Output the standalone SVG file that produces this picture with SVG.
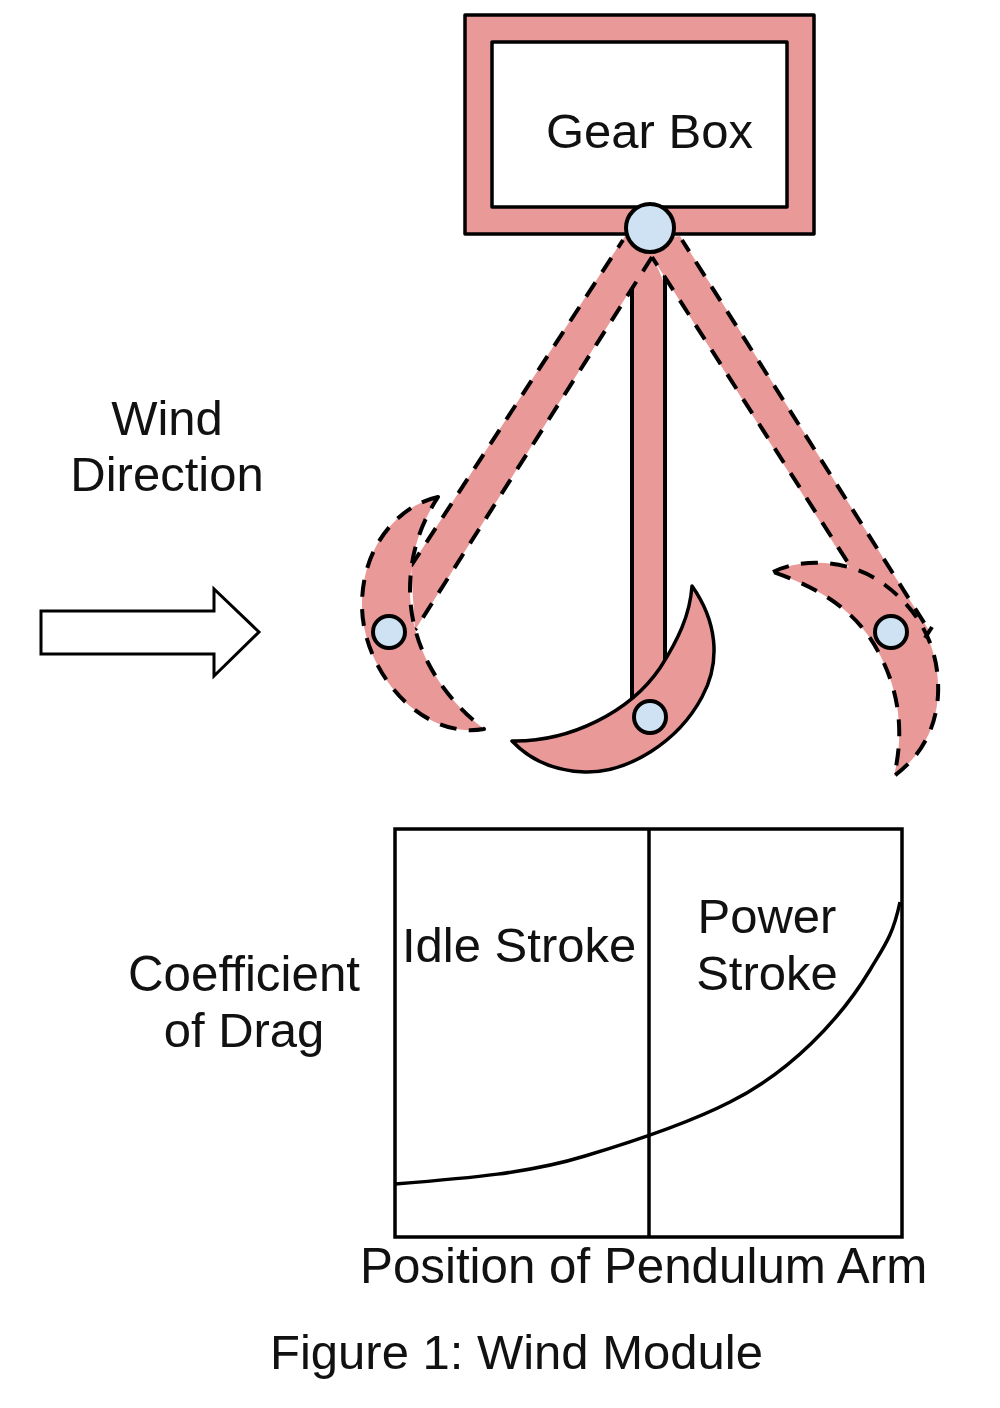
<svg xmlns="http://www.w3.org/2000/svg" width="1000" height="1408" viewBox="0 0 1000 1408">
<style>
.p{fill:#ea9999;stroke:#000;stroke-width:3.5;stroke-linejoin:round}
.f{fill:#ea9999}
.d{stroke-width:4;stroke-dasharray:17 12.3}
.e{fill:none;stroke:#000;stroke-width:4}
.c{fill:#cfe2f3;stroke:#000;stroke-width:4}
text{font-family:"Liberation Sans",Arial,sans-serif;font-size:49px;fill:#111}
.m{text-anchor:middle}
.w{font-size:49.3px}
</style>
<rect width="1000" height="1408" fill="#fff"/>
<g id="gearbox">
<path class="p" fill-rule="evenodd" d="M465 15H814V234H465ZM492 42V207H787V42Z"/>
<text x="546" y="148">Gear Box</text>
</g>
<g id="arm-center">
<path class="f" d="M632 285V720H665V285L650 250Z"/>
<path class="e" d="M632 288V720M665 275V720"/>
</g>
<g id="arm-left">
<path class="f" d="M625 236L411 566L415 630L652 256L655 240Z"/>
<path class="e d" style="stroke-dashoffset:8" d="M623 240L411 566"/>
<path class="e d" d="M652 257L415 630"/>
</g>
<g id="arm-right">
<path class="f" d="M680 236L930 632L895 640L652 257L645 240Z"/>
<path class="e d" style="stroke-dashoffset:7" d="M652 257L895 636"/>
</g>
<g id="blade-left">
<path class="p d" d="M438 497C400 505 362 545 362 605C362 670 420 740 484 729C440 695 410 645 410 590C410 555 420 525 438 497Z"/>
<circle class="c" cx="389" cy="632" r="16"/>
</g>
<g id="blade-center">
<path class="p" d="M692 586C716 620 722 660 702 697C678 742 628 773 585 772C553 771 530 760 512 741C570 742 630 712 660 668C678 640 690 615 692 586Z"/>
<circle class="c" cx="650" cy="717" r="16"/>
</g>
<g id="blade-right">
<path class="p d" d="M773 572C800 558 850 558 885 585C925 615 940 655 938 695C936 730 920 757 894 776C905 730 898 690 880 655C855 605 810 585 773 572Z"/>
<path class="e d" style="stroke-dashoffset:3.5" d="M682 240L930 632"/>
<path class="e" d="M932 627L925 638"/>
<circle class="c" cx="891" cy="632" r="16"/>
</g>
<g id="pivot-top">
<circle class="c" cx="650" cy="228" r="24"/>
</g>
<g id="wind">
<text class="m" x="167" y="435">Wind</text>
<text class="m" x="167" y="491">Direction</text>
<path d="M41 611H214V589L259 632L214 676V654H41Z" fill="#fff" stroke="#000" stroke-width="3" stroke-linejoin="miter"/>
</g>
<g id="chart">
<rect x="395" y="829" width="507" height="408" fill="#fff" stroke="#000" stroke-width="3.5"/>
<path class="e" style="stroke-width:3.5" d="M649 829V1237"/>
<path class="e" style="stroke-width:3.5" d="M395 1184C470 1178 530 1173 585 1156C625 1144 685 1125 730 1102C790 1072 840 1020 870 970C885 945 893 935 900 902"/>
<text x="402" y="962">Idle Stroke</text>
<text class="m" x="767" y="933">Power</text>
<text class="m" x="767" y="990">Stroke</text>
<text class="m w" x="244" y="991">Coefficient</text>
<text class="m" x="244" y="1047">of Drag</text>
<text class="w" x="360" y="1283">Position of Pendulum Arm</text>
</g>
<g id="caption">
<text x="270" y="1369">Figure 1: Wind Module</text>
</g>
</svg>
